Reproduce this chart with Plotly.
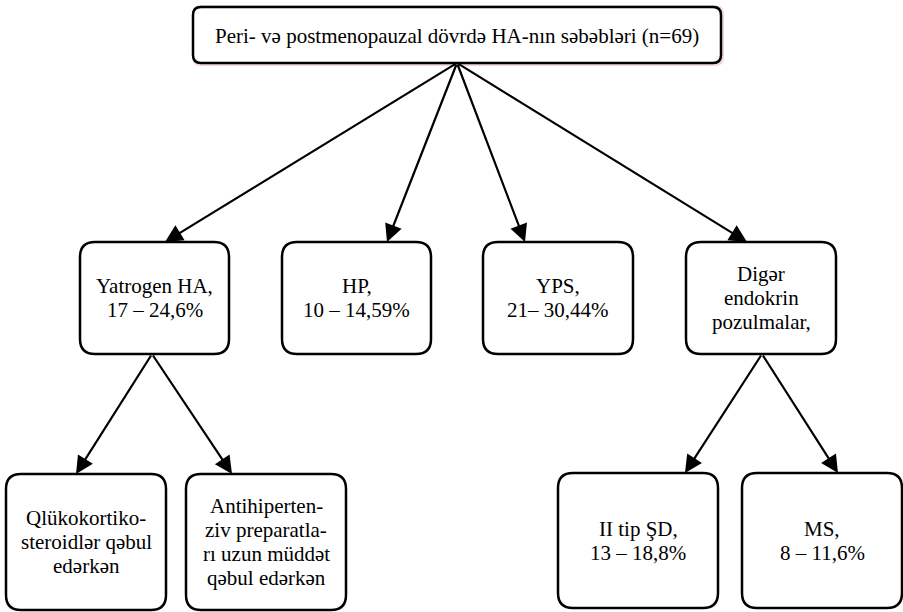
import plotly.graph_objects as go

# ---- data ----
title_text = "Peri- və postmenopauzal dövrdə HA-nın səbəbləri"
n_total = 69
level1_names = [["Yatrogen HA,"], ["HP,"], ["YPS,"], ["Digər", "endokrin", "pozulmalar,"]]
level1_counts = [17, 10, 21, None]
level1_percents = ["24,6%", "14,59%", "30,44%", None]
level1_sep = [" – ", " – ", "– ", None]
iatro_sub_labels = [["Qlükokortiko-", "steroidlər qəbul", "edərkən"],
                    ["Antihiperten-", "ziv preparatla-", "rı uzun müddət", "qəbul edərkən"]]
endo_sub_names = ["II tip ŞD,", "MS,"]
endo_sub_counts = [13, 8]
endo_sub_percents = ["18,8%", "11,6%"]

# ---- layout geometry (pixels) ----
W, H = 903, 612
top_box = (193, 7, 721, 63)
l1_boxes = [(80, 242, 229, 354), (282, 242, 431, 354), (483, 242, 633, 354), (686, 242, 836, 354)]
l1_tips = [(165, 242), (387, 242), (525, 242), (747, 242)]
iatro_boxes = [(6, 474, 166, 610), (186, 474, 346, 610)]
iatro_tips = [(76, 474), (232, 474)]
iatro_tail = (152, 354)
endo_boxes = [(558, 473, 718, 608), (742, 473, 902, 608)]
endo_tips = [(685, 473), (838, 473)]
endo_tail = (762, 354)
FONT = "'Liberation Serif', 'DejaVu Serif', serif"
FSIZE = 21
LINE_H = 24


def rrect(x0, y0, x1, y1, r):
    return (f"M {x0+r},{y0} L {x1-r},{y0} Q {x1},{y0} {x1},{y0+r} "
            f"L {x1},{y1-r} Q {x1},{y1} {x1-r},{y1} L {x0+r},{y1} "
            f"Q {x0},{y1} {x0},{y1-r} L {x0},{y0+r} Q {x0},{y0} {x0+r},{y0} Z")


fig = go.Figure()
shapes = []
annotations = []


def add_lines(cx, cy, lines, size=FSIZE):
    n = len(lines)
    for i, ln in enumerate(lines):
        annotations.append(dict(x=cx, y=cy + (i - (n - 1) / 2) * LINE_H, text=ln,
                                showarrow=False, xanchor="center", yanchor="middle",
                                font=dict(family=FONT, size=size, color="black")))


# top box with faint pink shadow
x0, y0, x1, y1 = top_box
shapes.append(dict(type="path", path=rrect(x0 - 1, y0 - 2, x1 + 3, y1 + 3, 9),
                   fillcolor="rgba(225,170,170,0.45)", line=dict(width=0), layer="below"))
shapes.append(dict(type="path", path=rrect(x0, y0, x1, y1, 8),
                   fillcolor="white", line=dict(color="black", width=2.5)))
add_lines((x0 + x1) / 2, (y0 + y1) / 2 + 1, [f"{title_text} (n={n_total})"], size=21)


def add_box(box, lines, r=15):
    bx0, by0, bx1, by1 = box
    shapes.append(dict(type="path", path=rrect(bx0, by0, bx1, by1, r),
                       fillcolor="white", line=dict(color="black", width=2.5)))
    add_lines((bx0 + bx1) / 2, (by0 + by1) / 2, lines)


def add_arrow(tail, tip):
    annotations.append(dict(x=tip[0], y=tip[1], ax=tail[0], ay=tail[1],
                            xref="x", yref="y", axref="x", ayref="y",
                            text="", showarrow=True, arrowhead=2, arrowsize=1.6,
                            arrowwidth=2.2, arrowcolor="black", standoff=0))


top_tail = ((top_box[0] + top_box[2]) / 2, top_box[3])
for i, box in enumerate(l1_boxes):
    lines = list(level1_names[i])
    if level1_counts[i] is not None:
        lines.append(f"{level1_counts[i]}{level1_sep[i]}{level1_percents[i]}")
    add_box(box, lines)
    add_arrow(top_tail, l1_tips[i])

for i, box in enumerate(iatro_boxes):
    add_box(box, iatro_sub_labels[i])
    add_arrow(iatro_tail, iatro_tips[i])

for i, box in enumerate(endo_boxes):
    add_box(box, [endo_sub_names[i], f"{endo_sub_counts[i]} – {endo_sub_percents[i]}"])
    add_arrow(endo_tail, endo_tips[i])

fig.update_layout(
    width=W, height=H,
    margin=dict(l=0, r=0, t=0, b=0),
    paper_bgcolor="white", plot_bgcolor="white",
    xaxis=dict(range=[0, W], visible=False, fixedrange=True),
    yaxis=dict(range=[H, 0], visible=False, fixedrange=True),
    shapes=shapes, annotations=annotations, showlegend=False,
)
fig.write_html("out.html", config={"displayModeBar": False},
               post_script="document.body.style.margin='0';document.body.style.overflow='hidden';")
